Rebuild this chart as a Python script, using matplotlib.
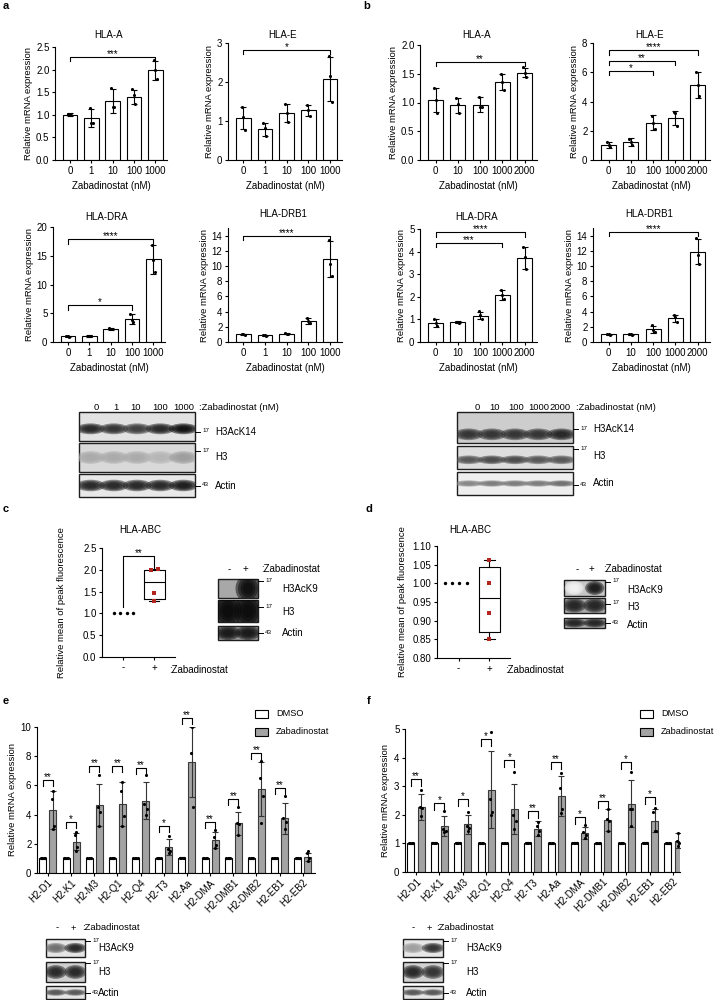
import numpy as np
import matplotlib
matplotlib.use('Agg')
import matplotlib.pyplot as plt
from matplotlib.patches import Rectangle, Ellipse

plt.rcParams['font.family'] = ['Liberation Sans', 'DejaVu Sans']
plt.rcParams['font.size'] = 7
W, H = 716, 1000

# ---------------- data: panels a / b (dose series) ----------------
DOSES_A = ['0', '1', '10', '100', '1000']
DOSES_B = ['0', '10', '100', '1000', '2000']

A_HLA_A = [1.0, 0.92, 1.31, 1.39, 1.99]
A_HLA_A_SD = [0.03, 0.2, 0.26, 0.15, 0.21]
A_HLA_A_PTS = [[1.01, 1.0, 0.99], [1.14, 0.82, 0.82], [1.6, 1.18, 1.18], [1.56, 1.43, 1.25], [2.22, 1.99, 1.8]]

A_HLA_E = [1.07, 0.79, 1.2, 1.27, 2.08]
A_HLA_E_SD = [0.28, 0.17, 0.23, 0.14, 0.57]
A_HLA_E_PTS = [[1.35, 1.1, 0.77], [0.95, 0.82, 0.62], [1.44, 1.2, 0.97], [1.42, 1.27, 1.13], [2.66, 2.15, 1.5]]

B_HLA_A = [1.04, 0.95, 0.96, 1.35, 1.52]
B_HLA_A_SD = [0.21, 0.13, 0.13, 0.14, 0.08]
B_HLA_A_PTS = [[1.25, 1.05, 0.82], [1.07, 0.97, 0.81], [1.1, 0.93, 0.93], [1.49, 1.35, 1.21], [1.61, 1.52, 1.44]]

B_HLA_E = [1.03, 1.24, 2.55, 2.88, 5.15]
B_HLA_E_SD = [0.22, 0.25, 0.5, 0.47, 0.88]
B_HLA_E_PTS = [[1.2, 1.0, 0.9], [1.45, 1.25, 1.05], [3.0, 2.5, 2.1], [3.25, 3.2, 2.35], [6.05, 5.1, 4.35]]

A_DRA = [1.0, 1.05, 2.3, 4.0, 14.4]
A_DRA_SD = [0.1, 0.1, 0.15, 0.8, 2.5]
A_DRA_PTS = [[1.05, 1.0, 0.95], [1.1, 1.05, 1.0], [2.4, 2.3, 2.2], [4.8, 3.9, 3.4], [16.9, 14.2, 12.2]]

A_DRB1 = [1.0, 0.9, 1.1, 2.8, 10.9]
A_DRB1_SD = [0.08, 0.07, 0.1, 0.4, 2.4]
A_DRB1_PTS = [[1.05, 1.0, 0.95], [0.95, 0.9, 0.85], [1.2, 1.1, 1.0], [3.2, 2.7, 2.5], [13.4, 10.3, 8.7]]

B_DRA = [0.85, 0.87, 1.17, 2.1, 3.72]
B_DRA_SD = [0.17, 0.04, 0.17, 0.22, 0.48]
B_DRA_PTS = [[1.0, 0.85, 0.7], [0.9, 0.87, 0.85], [1.35, 1.2, 1.0], [2.3, 2.1, 1.9], [4.2, 3.75, 3.25]]

B_DRB1 = [1.0, 1.0, 1.7, 3.1, 11.9]
B_DRB1_SD = [0.1, 0.08, 0.45, 0.45, 1.7]
B_DRB1_PTS = [[1.1, 1.0, 0.9], [1.05, 1.0, 0.95], [2.2, 1.6, 1.3], [3.6, 3.3, 2.6], [13.7, 11.5, 10.3]]

# ---------------- data: panels c / d (flow) ----------------
C_CTRL = [1.0, 1.0, 1.0, 1.0]
C_ZAB = [2.0, 2.02, 1.47, 1.28]
C_BOX = [1.28, 1.33, 1.72, 2.0, 2.02]      # whislo, q1, med, q3, whishi
D_CTRL = [1.0, 1.0, 1.0, 1.0]
D_ZAB = [1.062, 1.0, 0.92, 0.852]
D_BOX = [0.852, 0.87, 0.96, 1.045, 1.062]

# ---------------- data: panels e / f ----------------
GENES = ['H2-D1', 'H2-K1', 'H2-M3', 'H2-Q1', 'H2-Q4', 'H2-T3', 'H2-Aa',
         'H2-DMA', 'H2-DMB1', 'H2-DMB2', 'H2-EB1', 'H2-EB2']

E_DMSO = [1.0, 1.0, 1.0, 1.0, 1.0, 1.0, 1.05, 1.0, 1.0, 1.0, 1.0, 1.0]
E_DMSO_SD = [0.02] * 12
E_ZAB = [4.3, 2.15, 4.65, 4.7, 4.95, 1.75, 7.6, 2.25, 3.4, 5.75, 3.75, 1.1]
E_ZAB_SD = [1.3, 0.6, 1.45, 1.5, 1.25, 0.55, 2.4, 0.55, 0.8, 1.85, 1.05, 0.3]
E_ZAB_PTS = [[5.65, 5.05, 3.2, 3.0], [2.8, 2.6, 1.8, 1.5], [6.7, 4.5, 4.2, 3.2],
             [6.2, 5.6, 3.9, 3.2], [6.7, 4.7, 4.4, 4.0], [2.55, 1.65, 1.5, 1.35],
             [10.0, 8.25, 4.5], [2.95, 2.5, 1.9, 1.7], [4.55, 3.4, 3.35, 2.6],
             [7.7, 6.5, 5.3, 3.4], [5.3, 3.75, 3.5, 3.0], [1.5, 1.4, 1.0, 0.8]]
E_SIG = ['**', '*', '**', '**', '**', '*', '**', '**', '**', '**', '**', '']
E_SIG_Y = [6.35, 3.5, 7.3, 7.3, 7.2, 3.2, 10.6, 3.5, 5.1, 8.2, 5.8, 0]

F_DMSO = [1.0, 1.03, 1.02, 1.0, 1.0, 1.02, 1.0, 1.03, 1.0, 1.0, 1.03, 1.0]
F_DMSO_SD = [0.02] * 12
F_ZAB = [2.27, 1.62, 1.67, 2.88, 2.2, 1.52, 2.65, 1.37, 1.83, 2.38, 1.8, 1.1]
F_ZAB_SD = [0.45, 0.35, 0.33, 1.35, 0.88, 0.25, 0.7, 0.22, 0.38, 0.82, 0.4, 0.25]
F_ZAB_PTS = [[2.85, 2.27, 2.25, 1.95], [2.15, 1.5, 1.45, 1.4], [2.1, 1.6, 1.55, 1.45],
             [4.9, 2.55, 2.1, 2.0], [3.5, 2.0, 1.8, 1.5], [1.75, 1.6, 1.45, 1.3],
             [3.45, 2.95, 2.2, 2.05], [1.65, 1.4, 1.3, 1.2], [2.2, 1.85, 1.8, 1.45],
             [3.5, 2.2, 2.2, 1.6], [2.25, 2.1, 1.45, 1.45], [1.35, 1.1, 1.0, 0.9]]
F_SIG = ['**', '*', '*', '*', '*', '**', '**', '*', '**', '*', '*', '']
F_SIG_Y = [3.25, 2.43, 2.55, 4.64, 3.92, 2.15, 3.83, 1.92, 2.47, 3.86, 2.62, 0]

# ---------------- data: western blot band intensities ----------------
BLOT_A = [[0.9, 0.85, 0.8, 0.9, 1.0], [0.35, 0.35, 0.35, 0.3, 0.4], [0.9, 0.9, 0.9, 0.9, 0.95]]
BLOT_B = [[0.85, 0.85, 0.85, 0.85, 0.9], [0.7, 0.75, 0.75, 0.7, 0.7], [0.5, 0.55, 0.55, 0.55, 0.6]]
BLOT_C = [[0.0, 1.0], [1.0, 1.0], [0.95, 0.95]]
BLOT_D = [[0.05, 0.95], [0.9, 0.9], [0.9, 0.9]]
BLOT_E = [[0.6, 0.9], [0.9, 0.9], [0.7, 0.7]]
BLOT_F = [[0.4, 0.85], [0.9, 0.85], [0.7, 0.7]]

ZAB_GREY = '#a3a3a3'
DOT3 = [-0.07, 0.0, 0.07]
DOT4 = [0.0, -0.05, 0.05, 0.0]

fig = plt.figure(figsize=(W / 100, H / 100), dpi=100)

ov = fig.add_axes([0, 0, 1, 1], zorder=5)
ov.set_xlim(0, W)
ov.set_ylim(H, 0)
ov.axis('off')


def add_px_axes(left, top, right, bottom):
    return fig.add_axes([left / W, 1 - bottom / H, (right - left) / W, (bottom - top) / H])


def style(ax):
    for s in ['top', 'right']:
        ax.spines[s].set_visible(False)
    for s in ['left', 'bottom']:
        ax.spines[s].set_linewidth(0.8)
    ax.tick_params(length=2.5, width=0.8, labelsize=7, pad=1.5)
    ax.patch.set_alpha(0)


def bracket(ax, x1, x2, y, leg, txt, fs=7):
    ax.plot([x1, x1, x2, x2], [y - leg, y, y, y - leg], color='black', lw=0.8,
            clip_on=False, zorder=5)
    ax.annotate(txt, ((x1 + x2) / 2, y), xytext=(0, -1.5), textcoords='offset points',
                ha='center', va='bottom', fontsize=fs, annotation_clip=False)


def dose_panel(box, title, doses, mean, sd, pts, ymax, yticks, fmt, brackets, title_y, xlabel_y):
    left, top, right, bottom = box
    ax = add_px_axes(left, top, right, bottom)
    x = np.arange(len(mean))
    ax.bar(x, mean, width=0.68, color='white', edgecolor='black', linewidth=0.8, zorder=2)
    ax.errorbar(x, mean, yerr=sd, fmt='none', ecolor='black', elinewidth=0.8,
                capsize=2.2, capthick=0.8, zorder=3)
    for i, p in enumerate(pts):
        ax.scatter([i + o for o in DOT3[:len(p)]], p, s=5, color='black', linewidths=0, zorder=4)
    ax.set_xlim(-0.7, 4.55)
    ax.set_ylim(0, ymax)
    ax.set_xticks(x)
    ax.set_xticklabels(doses)
    ax.set_yticks(yticks)
    ax.set_yticklabels([fmt.format(t) for t in yticks])
    style(ax)
    ax.set_ylabel('Relative mRNA expression', fontsize=6.8, labelpad=2)
    leg = 4.5 * ymax / (bottom - top)
    for x1, x2, y, txt in brackets:
        bracket(ax, x1, x2, y, leg, txt)
    ov.text((left + right) / 2 - 2, title_y, title, ha='center', va='center', fontsize=7)
    ov.text((left + right) / 2, xlabel_y, 'Zabadinostat (nM)', ha='center', va='center', fontsize=7)
    return ax


# row 1
dose_panel((55, 47, 167, 160), 'HLA-A', DOSES_A, A_HLA_A, A_HLA_A_SD, A_HLA_A_PTS, 2.5,
           np.arange(0, 2.51, 0.5), '{:.1f}', [(0, 4, 2.28, '***')], 35, 186)
dose_panel((228, 43, 342, 160), 'HLA-E', DOSES_A, A_HLA_E, A_HLA_E_SD, A_HLA_E_PTS, 3,
           [0, 1, 2, 3], '{:d}', [(0, 4, 2.83, '*')], 35, 186)
dose_panel((420, 45, 537, 160), 'HLA-A', DOSES_B, B_HLA_A, B_HLA_A_SD, B_HLA_A_PTS, 2.0,
           np.arange(0, 2.01, 0.5), '{:.1f}', [(0, 4, 1.71, '**')], 35, 186)
dose_panel((593, 43, 710, 160), 'HLA-E', DOSES_B, B_HLA_E, B_HLA_E_SD, B_HLA_E_PTS, 8,
           [0, 2, 4, 6, 8], '{:d}', [(0, 2, 6.1, '*'), (0, 3, 6.8, '**'), (0, 4, 7.5, '****')], 35, 186)
# row 2
dose_panel((53, 227, 165, 342), 'HLA-DRA', DOSES_A, A_DRA, A_DRA_SD, A_DRA_PTS, 20,
           [0, 5, 10, 15, 20], '{:d}', [(0, 3, 6.4, '*'), (0, 4, 17.9, '****')], 217, 368)
dose_panel((228, 228, 342, 342), 'HLA-DRB1', DOSES_A, A_DRB1, A_DRB1_SD, A_DRB1_PTS, 15,
           list(range(0, 15, 2)), '{:d}', [(0, 4, 14.0, '****')], 214, 368)
dose_panel((420, 229, 537, 342), 'HLA-DRA', DOSES_B, B_DRA, B_DRA_SD, B_DRA_PTS, 5,
           [0, 1, 2, 3, 4, 5], '{:d}', [(0, 3, 4.4, '***'), (0, 4, 4.85, '****')], 217, 368)
dose_panel((593, 228, 710, 342), 'HLA-DRB1', DOSES_B, B_DRB1, B_DRB1_SD, B_DRB1_PTS, 15,
           list(range(0, 15, 2)), '{:d}', [(0, 4, 14.5, '****')], 214, 368)


# ---------------- box panels c / d ----------------
def box_panel(box, ctrl, zab, stats, ylim, yticks, fmt, xr, title_x, ylab_pad, ctrl_x, zab_x):
    left, top, right, bottom = box
    ax = add_px_axes(left, top, right, bottom)
    wl, q1, med, q3, wh = stats
    ax.bxp([dict(med=med, q1=q1, q3=q3, whislo=wl, whishi=wh)], positions=[1], widths=0.68,
           showfliers=False, manage_ticks=False,
           boxprops=dict(color='black', lw=0.8), medianprops=dict(color='black', lw=0.8),
           whiskerprops=dict(color='black', lw=0.8), capprops=dict(color='black', lw=0.8))
    ax.scatter(ctrl_x, ctrl, s=6, color='black', linewidths=0, zorder=4)
    ax.scatter(zab_x, zab, s=10, marker='s', color='#b3261e', linewidths=0, zorder=4)
    ax.set_xlim(-0.7, xr)
    ax.set_ylim(*ylim)
    ax.set_xticks([0, 1])
    ax.set_xticklabels(['-', '+'])
    ax.set_yticks(yticks)
    ax.set_yticklabels([fmt.format(t) for t in yticks])
    style(ax)
    ax.set_ylabel('Relative mean of peak fluorescence', fontsize=6.8, labelpad=ylab_pad)
    ov.text(title_x, 530, 'HLA-ABC', ha='center', va='center', fontsize=7)
    return ax


axc = box_panel((102, 548, 175, 657), C_CTRL, C_ZAB, C_BOX, (0, 2.5),
                np.arange(0, 2.51, 0.5), '{:.1f}', 1.68, 140, 12,
                [-0.32, -0.11, 0.1, 0.31], [0.9, 1.12, 1.0, 1.0])
axc.plot([0, 0, 1, 1], [1.15, 2.32, 2.32, 2.05], color='black', lw=0.8)
axc.annotate('**', (0.5, 2.32), xytext=(0, -1.5), textcoords='offset points',
             ha='center', va='bottom', fontsize=7)
ov.text(169, 670, ':Zabadinostat', ha='left', va='center', fontsize=7)

box_panel((437, 546, 510, 658), D_CTRL, D_ZAB, D_BOX, (0.8, 1.1),
          np.arange(0.8, 1.101, 0.05), '{:.2f}', 1.67, 470, 4,
          [-0.43, -0.2, 0.03, 0.26], [1.0, 1.0, 1.0, 1.0])
ov.text(505, 670, ':Zabadinostat', ha='left', va='center', fontsize=7)


# ---------------- panels e / f ----------------
def h2_panel(box, dmso, dmso_sd, zab, zab_sd, pts, sig, sig_y, ymax, yticks, xr, leg_px, leg_x):
    left, top, right, bottom = box
    ax = add_px_axes(left, top, right, bottom)
    x = np.arange(len(GENES))
    ax.bar(x - 0.215, dmso, width=0.3, color='white', edgecolor='black', linewidth=0.8, zorder=2)
    ax.bar(x + 0.215, zab, width=0.3, color=ZAB_GREY, edgecolor='#3a3a3a', linewidth=0.8, zorder=2)
    ax.errorbar(x - 0.215, dmso, yerr=dmso_sd, fmt='none', ecolor='black', elinewidth=0.8,
                capsize=2, capthick=0.8, zorder=3)
    ax.errorbar(x + 0.215, zab, yerr=zab_sd, fmt='none', ecolor='#333333', elinewidth=0.8,
                capsize=2, capthick=0.8, zorder=3)
    for i in range(len(GENES)):
        ax.scatter([x[i] - 0.215 + o for o in [-0.09, -0.03, 0.03, 0.09]], [dmso[i]] * 4,
                   s=5, color='black', linewidths=0, zorder=4)
        p = pts[i]
        ax.scatter([x[i] + 0.215 + o for o in DOT4[:len(p)]], p, s=5, color='black',
                   linewidths=0, zorder=4)
    ax.set_xlim(-0.47, xr)
    ax.set_ylim(0, ymax)
    ax.set_xticks(x)
    ax.set_xticklabels(GENES, rotation=45, ha='right', rotation_mode='anchor', fontsize=7)
    ax.set_yticks(yticks)
    style(ax)
    ax.tick_params(axis='x', pad=1)
    ax.set_ylabel('Relative mRNA expression', fontsize=6.8, labelpad=3)
    leg = leg_px * ymax / (bottom - top)
    for i, (s, y) in enumerate(zip(sig, sig_y)):
        if s:
            bracket(ax, i - 0.215, i + 0.215, y, leg, s)
    # legend
    ov.add_patch(Rectangle((leg_x, 710), 13, 8, facecolor='white', edgecolor='black', lw=0.8))
    ov.add_patch(Rectangle((leg_x, 728), 13, 8, facecolor=ZAB_GREY, edgecolor='black', lw=0.8))
    ov.text(leg_x + 21, 714, 'DMSO', ha='left', va='center', fontsize=6.6)
    ov.text(leg_x + 21, 732, 'Zabadinostat', ha='left', va='center', fontsize=6.6)
    return ax


h2_panel((37, 727, 315, 873), E_DMSO, E_DMSO_SD, E_ZAB, E_ZAB_SD, E_ZAB_PTS, E_SIG, E_SIG_Y,
         10, [0, 2, 4, 6, 8, 10], 11.53, 6, 255)
h2_panel((405, 729, 680, 872), F_DMSO, F_DMSO_SD, F_ZAB, F_ZAB_SD, F_ZAB_PTS, F_SIG, F_SIG_Y,
         5, [0, 1, 2, 3, 4, 5], 11.3, 7, 640)


# ---------------- western blots ----------------
def strip(x0, x1, y0, y1, inten, bg, hfrac, wfrac=0.9, cy=0.5):
    rect = Rectangle((x0, y0), x1 - x0, y1 - y0, facecolor=bg, edgecolor='#1e1e1e', lw=1.0, zorder=1)
    ov.add_patch(rect)
    lw = (x1 - x0) / len(inten)
    for i, v in enumerate(inten):
        if v <= 0.02:
            continue
        c = str(round(1 - 0.97 * v, 3))
        for sc in [1.25, 1.0, 0.75, 0.5]:
            e = Ellipse((x0 + lw * (i + 0.5), y0 + (y1 - y0) * cy), lw * wfrac * sc,
                        (y1 - y0) * hfrac * sc, facecolor=c, edgecolor='none', alpha=0.5, zorder=2)
            ov.add_patch(e)
            e.set_clip_path(rect)


def blot_label(xr, tick_y, mw, name, name_y, name_x=None):
    ov.plot([xr, xr + 5], [tick_y, tick_y], color='black', lw=0.7)
    ov.text(xr + 7, tick_y - 1, mw, ha='left', va='center', fontsize=4.5)
    ov.text(name_x if name_x else xr + 20, name_y, name, ha='left', va='center', fontsize=7)


# blot a
strip(79, 195, 412, 441, BLOT_A[0], '#e2e2e2', 0.3, wfrac=1.0, cy=0.58)
strip(79, 195, 443, 472, BLOT_A[1], '#d9d9d9', 0.35, wfrac=1.0)
strip(79, 195, 474, 497, BLOT_A[2], '#e8e8e8', 0.4, wfrac=1.0)
blot_label(195, 432, '17', 'H3AcK14', 432)
blot_label(195, 451, '17', 'H3', 457)
blot_label(195, 486, '43', 'Actin', 486)
for lab, xx in zip(DOSES_A, [96, 116, 136, 160, 184]):
    ov.text(xx, 407, lab, ha='center', va='center', fontsize=6.8)
ov.text(199, 407, ':Zabadinostat (nM)', ha='left', va='center', fontsize=6.8)

# blot b
strip(457, 573, 412, 443, BLOT_B[0], '#cdcdcd', 0.3, wfrac=1.0, cy=0.72)
strip(457, 573, 446, 469, BLOT_B[1], '#dedede', 0.3, wfrac=1.0, cy=0.6)
strip(457, 573, 472, 495, BLOT_B[2], '#eeeeee', 0.22, wfrac=1.0)
blot_label(573, 429, '17', 'H3AcK14', 429)
blot_label(573, 449, '17', 'H3', 456)
blot_label(573, 485, '43', 'Actin', 483)
for lab, xx in zip(DOSES_B, [477, 495, 516, 539, 560]):
    ov.text(xx, 407, lab, ha='center', va='center', fontsize=6.8)
ov.text(576, 407, ':Zabadinostat (nM)', ha='left', va='center', fontsize=6.8)

# blot c
strip(218, 258, 579, 598, BLOT_C[0], '#a8a8a8', 1.2, wfrac=1.0)
strip(218, 258, 600, 622, BLOT_C[1], '#6a6a6a', 1.2, wfrac=1.1)
strip(218, 258, 626, 640, BLOT_C[2], '#9a9a9a', 0.8, wfrac=1.0)
blot_label(258, 581, '17', 'H3AcK9', 589, 282)
blot_label(258, 607, '17', 'H3', 612, 282)
blot_label(258, 633, '43', 'Actin', 633, 282)
ov.text(229, 569, '-', ha='center', va='center', fontsize=7)
ov.text(245, 569, '+', ha='center', va='center', fontsize=7)
ov.text(261, 569, ':Zabadinostat', ha='left', va='center', fontsize=7)

# blot d
strip(564, 605, 580, 596, BLOT_D[0], '#c6c6c6', 0.7, wfrac=0.75)
strip(564, 605, 598, 613, BLOT_D[1], '#aaaaaa', 0.75)
strip(564, 605, 618, 628, BLOT_D[2], '#aaaaaa', 0.7)
blot_label(605, 582, '17', 'H3AcK9', 590, 627)
blot_label(605, 604, '17', 'H3', 607, 627)
blot_label(605, 623, '43', 'Actin', 625, 627)
ov.text(577, 569, '-', ha='center', va='center', fontsize=7)
ov.text(591, 569, '+', ha='center', va='center', fontsize=7)
ov.text(603, 569, ':Zabadinostat', ha='left', va='center', fontsize=7)

# blot e
strip(46, 85, 939, 957, BLOT_E[0], '#e4e4e4', 0.45)
strip(46, 85, 962, 982, BLOT_E[1], '#cfcfcf', 0.55)
strip(46, 85, 986, 999, BLOT_E[2], '#e4e4e4', 0.4)
blot_label(85, 941, '17', 'H3AcK9', 948, 98)
blot_label(85, 963, '17', 'H3', 972, 98)
blot_label(85, 993, '43', 'Actin', 993, 98)
ov.text(57, 928, '-', ha='center', va='center', fontsize=6.8)
ov.text(73, 928, '+', ha='center', va='center', fontsize=6.8)
ov.text(82, 928, ':Zabadinostat', ha='left', va='center', fontsize=6.8)

# blot f
strip(403, 443, 939, 957, BLOT_F[0], '#e6e6e6', 0.45)
strip(403, 443, 962, 982, BLOT_F[1], '#d2d2d2', 0.55)
strip(403, 443, 986, 999, BLOT_F[2], '#e4e4e4', 0.4)
blot_label(443, 941, '17', 'H3AcK9', 948, 466)
blot_label(443, 963, '17', 'H3', 972, 466)
blot_label(443, 993, '43', 'Actin', 993, 466)
ov.text(413, 928, '-', ha='center', va='center', fontsize=6.8)
ov.text(429, 928, '+', ha='center', va='center', fontsize=6.8)
ov.text(436, 928, ':Zabadinostat', ha='left', va='center', fontsize=6.8)

# panel letters
for letter, px, py in [('a', 3, 6), ('b', 363, 6), ('c', 3, 509), ('d', 366, 509),
                       ('e', 3, 701), ('f', 367, 701)]:
    ov.text(px, py, letter, ha='left', va='center', fontsize=8, fontweight='bold')

fig.savefig('out.png', dpi=100)
